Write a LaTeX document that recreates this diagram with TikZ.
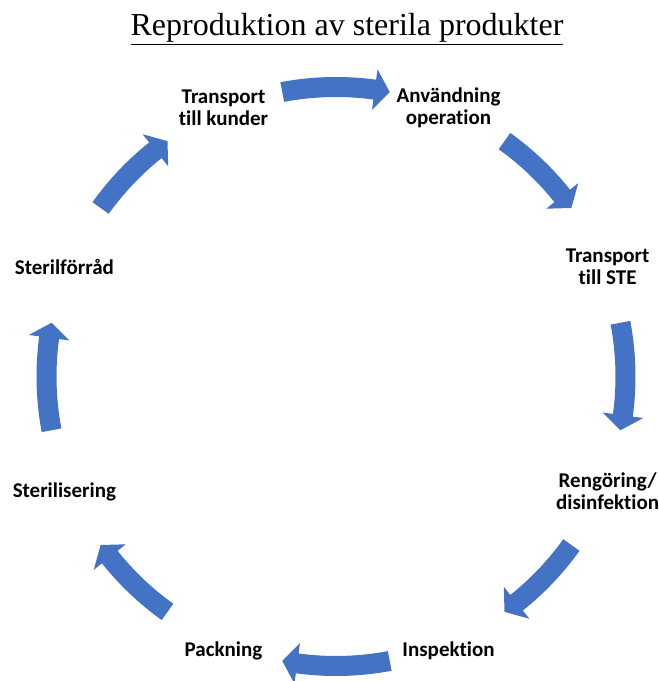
\documentclass[tikz,border=0pt]{standalone}
\usepackage{fontspec}
\setmainfont{Liberation Serif}
\newfontfamily\labfont[Ligatures=NoCommon]{Carlito}
\usetikzlibrary{calc}
\definecolor{arrowblue}{HTML}{4472C4}
\newcommand{\cyclearrow}[2]{%
  \pgfmathsetmacro{\ta}{#1+#2}%
  \pgfmathsetmacro{\tb}{#1-#2+3}%
  \pgfmathsetmacro{\tc}{#1-#2}%
  \fill[arr, shift={(C)}] (\ta:279.5pt) arc[start angle=\ta, end angle=\tb, radius=279.5pt]
    -- (\tb:269pt) -- (\tc:289.5pt) -- (\tb:310pt) -- (\tb:299.5pt)
    arc[start angle=\tb, end angle=\ta, radius=299.5pt] -- cycle;}
\begin{document}
\begin{tikzpicture}[x=1pt,y=1pt,
  lbl/.style={font=\labfont\bfseries\fontsize{21}{22}\selectfont, align=center, inner sep=0pt},
  arr/.style={fill=arrowblue}]
\useasboundingbox (0,0) rectangle (659,681);
\coordinate (C) at (336,304.5);
\coordinate (CL) at (336,302);
\node[font=\fontsize{32}{38}\selectfont, inner sep=0pt] (title) at (347,652) {\underline{Reproduktion av sterila produkter}};
\node[lbl] (n1) at ($(CL)+(112.5:294pt)$) {Transport\\till kunder};
\node[lbl] (n2) at ($(CL)+(67.5:294pt)$) {Användning\\operation};
\node[lbl] (n3) at ($(CL)+(22.5:294pt)$) {Transport\\till STE};
\node[lbl] (n4) at ($(CL)+(-22.5:294pt)$) {Rengöring/\\disinfektion};
\node[lbl] (n5) at ($(CL)+(-67.5:294pt)$) {Inspektion};
\node[lbl] (n6) at ($(CL)+(-112.5:294pt)$) {Packning};
\node[lbl] (n7) at ($(CL)+(-157.5:294pt)$) {Sterilisering};
\node[lbl] (n8) at ($(CL)+(157.5:294pt)$) {Sterilförråd};
\cyclearrow{90}{10.7}
\cyclearrow{45}{9.4}
\cyclearrow{0}{10.7}
\cyclearrow{-45}{9.4}
\cyclearrow{-90}{10.7}
\cyclearrow{-135}{9.4}
\cyclearrow{180}{10.7}
\cyclearrow{135}{9.4}
\end{tikzpicture}
\end{document}
